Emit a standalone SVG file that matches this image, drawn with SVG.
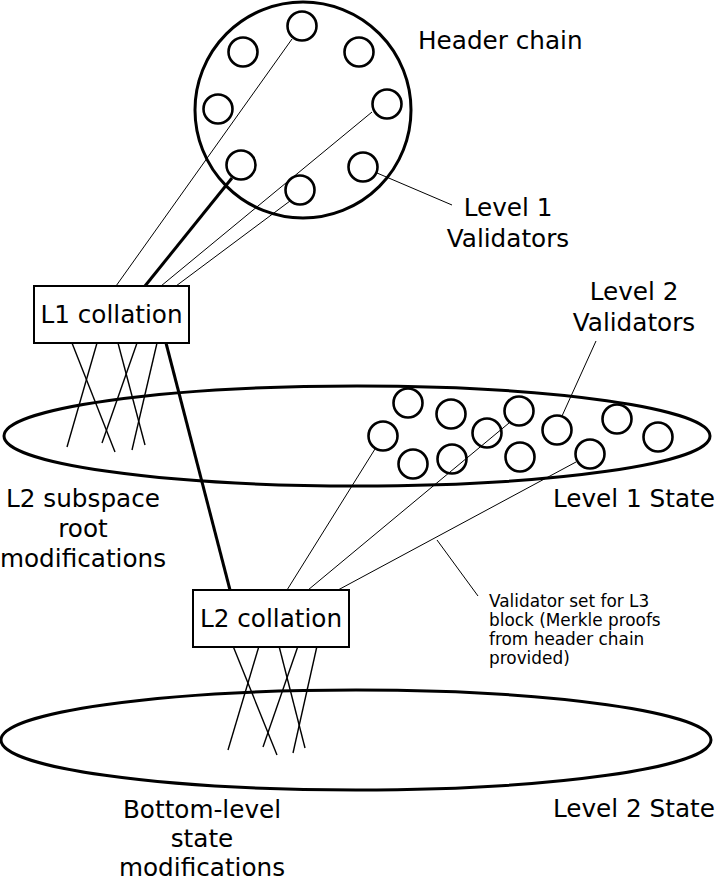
<svg xmlns="http://www.w3.org/2000/svg" width="717" height="882" viewBox="0 0 717 882">
<style>
.big{fill:none;stroke:#000;stroke-width:3}
.node{fill:none;stroke:#000;stroke-width:2.6}
.box{fill:#fff;stroke:#000;stroke-width:2}
.thin{stroke:#000;stroke-width:1;fill:none}
.med{stroke:#000;stroke-width:1.4;fill:none}
.thick{stroke:#000;stroke-width:3;fill:none}
text{font-family:"DejaVu Sans","Liberation Sans",sans-serif;font-size:24.7px;fill:#000}
.c{text-anchor:middle}
.small{font-size:16.9px}
</style>
<rect width="717" height="882" fill="#fff"/>
<g id="connectors">
<line class="thin" x1="292" y1="39" x2="116" y2="286"/>
<line class="thick" x1="232" y1="178" x2="145" y2="286"/>
<line class="thin" x1="372" y1="112" x2="161" y2="286"/>
<line class="thin" x1="290" y1="201" x2="176" y2="286"/>
<line class="thin" x1="377" y1="173" x2="452" y2="205"/>
<line class="med" x1="72" y1="343" x2="115" y2="452"/>
<line class="med" x1="97" y1="343" x2="67" y2="447"/>
<line class="med" x1="118" y1="343" x2="145" y2="445"/>
<line class="med" x1="137" y1="343" x2="102" y2="443"/>
<line class="med" x1="157" y1="343" x2="132" y2="450"/>
<line class="thick" x1="166" y1="343" x2="230" y2="590"/>
<line class="thin" x1="375" y1="449" x2="287" y2="590"/>
<line class="thin" x1="509" y1="423" x2="308" y2="590"/>
<line class="thin" x1="576" y1="462" x2="338" y2="590"/>
<line class="thin" x1="562" y1="416" x2="596" y2="341"/>
<line class="thin" x1="437" y1="540" x2="478" y2="596"/>
<line class="med" x1="233" y1="646" x2="277" y2="755"/>
<line class="med" x1="259" y1="646" x2="228" y2="750"/>
<line class="med" x1="279" y1="646" x2="305" y2="748"/>
<line class="med" x1="298" y1="646" x2="263" y2="747"/>
<line class="med" x1="317" y1="646" x2="293" y2="753"/>
</g>
<g id="header-chain">
<circle class="big" cx="303" cy="110" r="108"/>
<circle class="node" cx="302" cy="26" r="14.5"/>
<circle class="node" cx="243" cy="52" r="14.5"/>
<circle class="node" cx="359" cy="52" r="14.5"/>
<circle class="node" cx="218" cy="109" r="14.5"/>
<circle class="node" cx="387" cy="104" r="14.5"/>
<circle class="node" cx="241" cy="165" r="14.5"/>
<circle class="node" cx="363" cy="167" r="14.5"/>
<circle class="node" cx="300" cy="190" r="14.5"/>
</g>
<g id="level1-state">
<ellipse class="big" cx="357" cy="436" rx="353" ry="50"/>
<circle class="node" cx="408" cy="403" r="14.5"/>
<circle class="node" cx="451" cy="414" r="14.5"/>
<circle class="node" cx="519" cy="411" r="14.5"/>
<circle class="node" cx="383" cy="436" r="14.5"/>
<circle class="node" cx="487" cy="433" r="14.5"/>
<circle class="node" cx="557" cy="430" r="14.5"/>
<circle class="node" cx="617" cy="419" r="14.5"/>
<circle class="node" cx="658" cy="437" r="14.5"/>
<circle class="node" cx="413" cy="464" r="14.5"/>
<circle class="node" cx="452" cy="459" r="14.5"/>
<circle class="node" cx="520" cy="457" r="14.5"/>
<circle class="node" cx="590" cy="454" r="14.5"/>
</g>
<g id="level2-state">
<ellipse class="big" cx="356" cy="740" rx="355" ry="50"/>
</g>
<g id="l1-collation">
<rect class="box" x="34" y="286" width="155" height="57"/>
<text class="c" x="111.5" y="323">L1 collation</text>
</g>
<g id="l2-collation">
<rect class="box" x="193" y="590" width="156" height="57"/>
<text class="c" x="271" y="627">L2 collation</text>
</g>
<g id="labels">
<text x="418" y="49">Header chain</text>
<text class="c" x="508" y="216">Level 1</text>
<text class="c" x="508" y="247">Validators</text>
<text class="c" x="634" y="300">Level 2</text>
<text class="c" x="634" y="331">Validators</text>
<text class="c" x="83" y="507">L2 subspace</text>
<text class="c" x="83" y="537">root</text>
<text class="c" x="83" y="567">modifications</text>
<text x="553" y="507">Level 1 State</text>
<text class="small" x="489" y="607">Validator set for L3</text>
<text class="small" x="489" y="626">block (Merkle proofs</text>
<text class="small" x="489" y="645">from header chain</text>
<text class="small" x="489" y="664">provided)</text>
<text class="c" x="202" y="818">Bottom-level</text>
<text class="c" x="202" y="847">state</text>
<text class="c" x="202" y="876">modifications</text>
<text x="553" y="817">Level 2 State</text>
</g>
</svg>
